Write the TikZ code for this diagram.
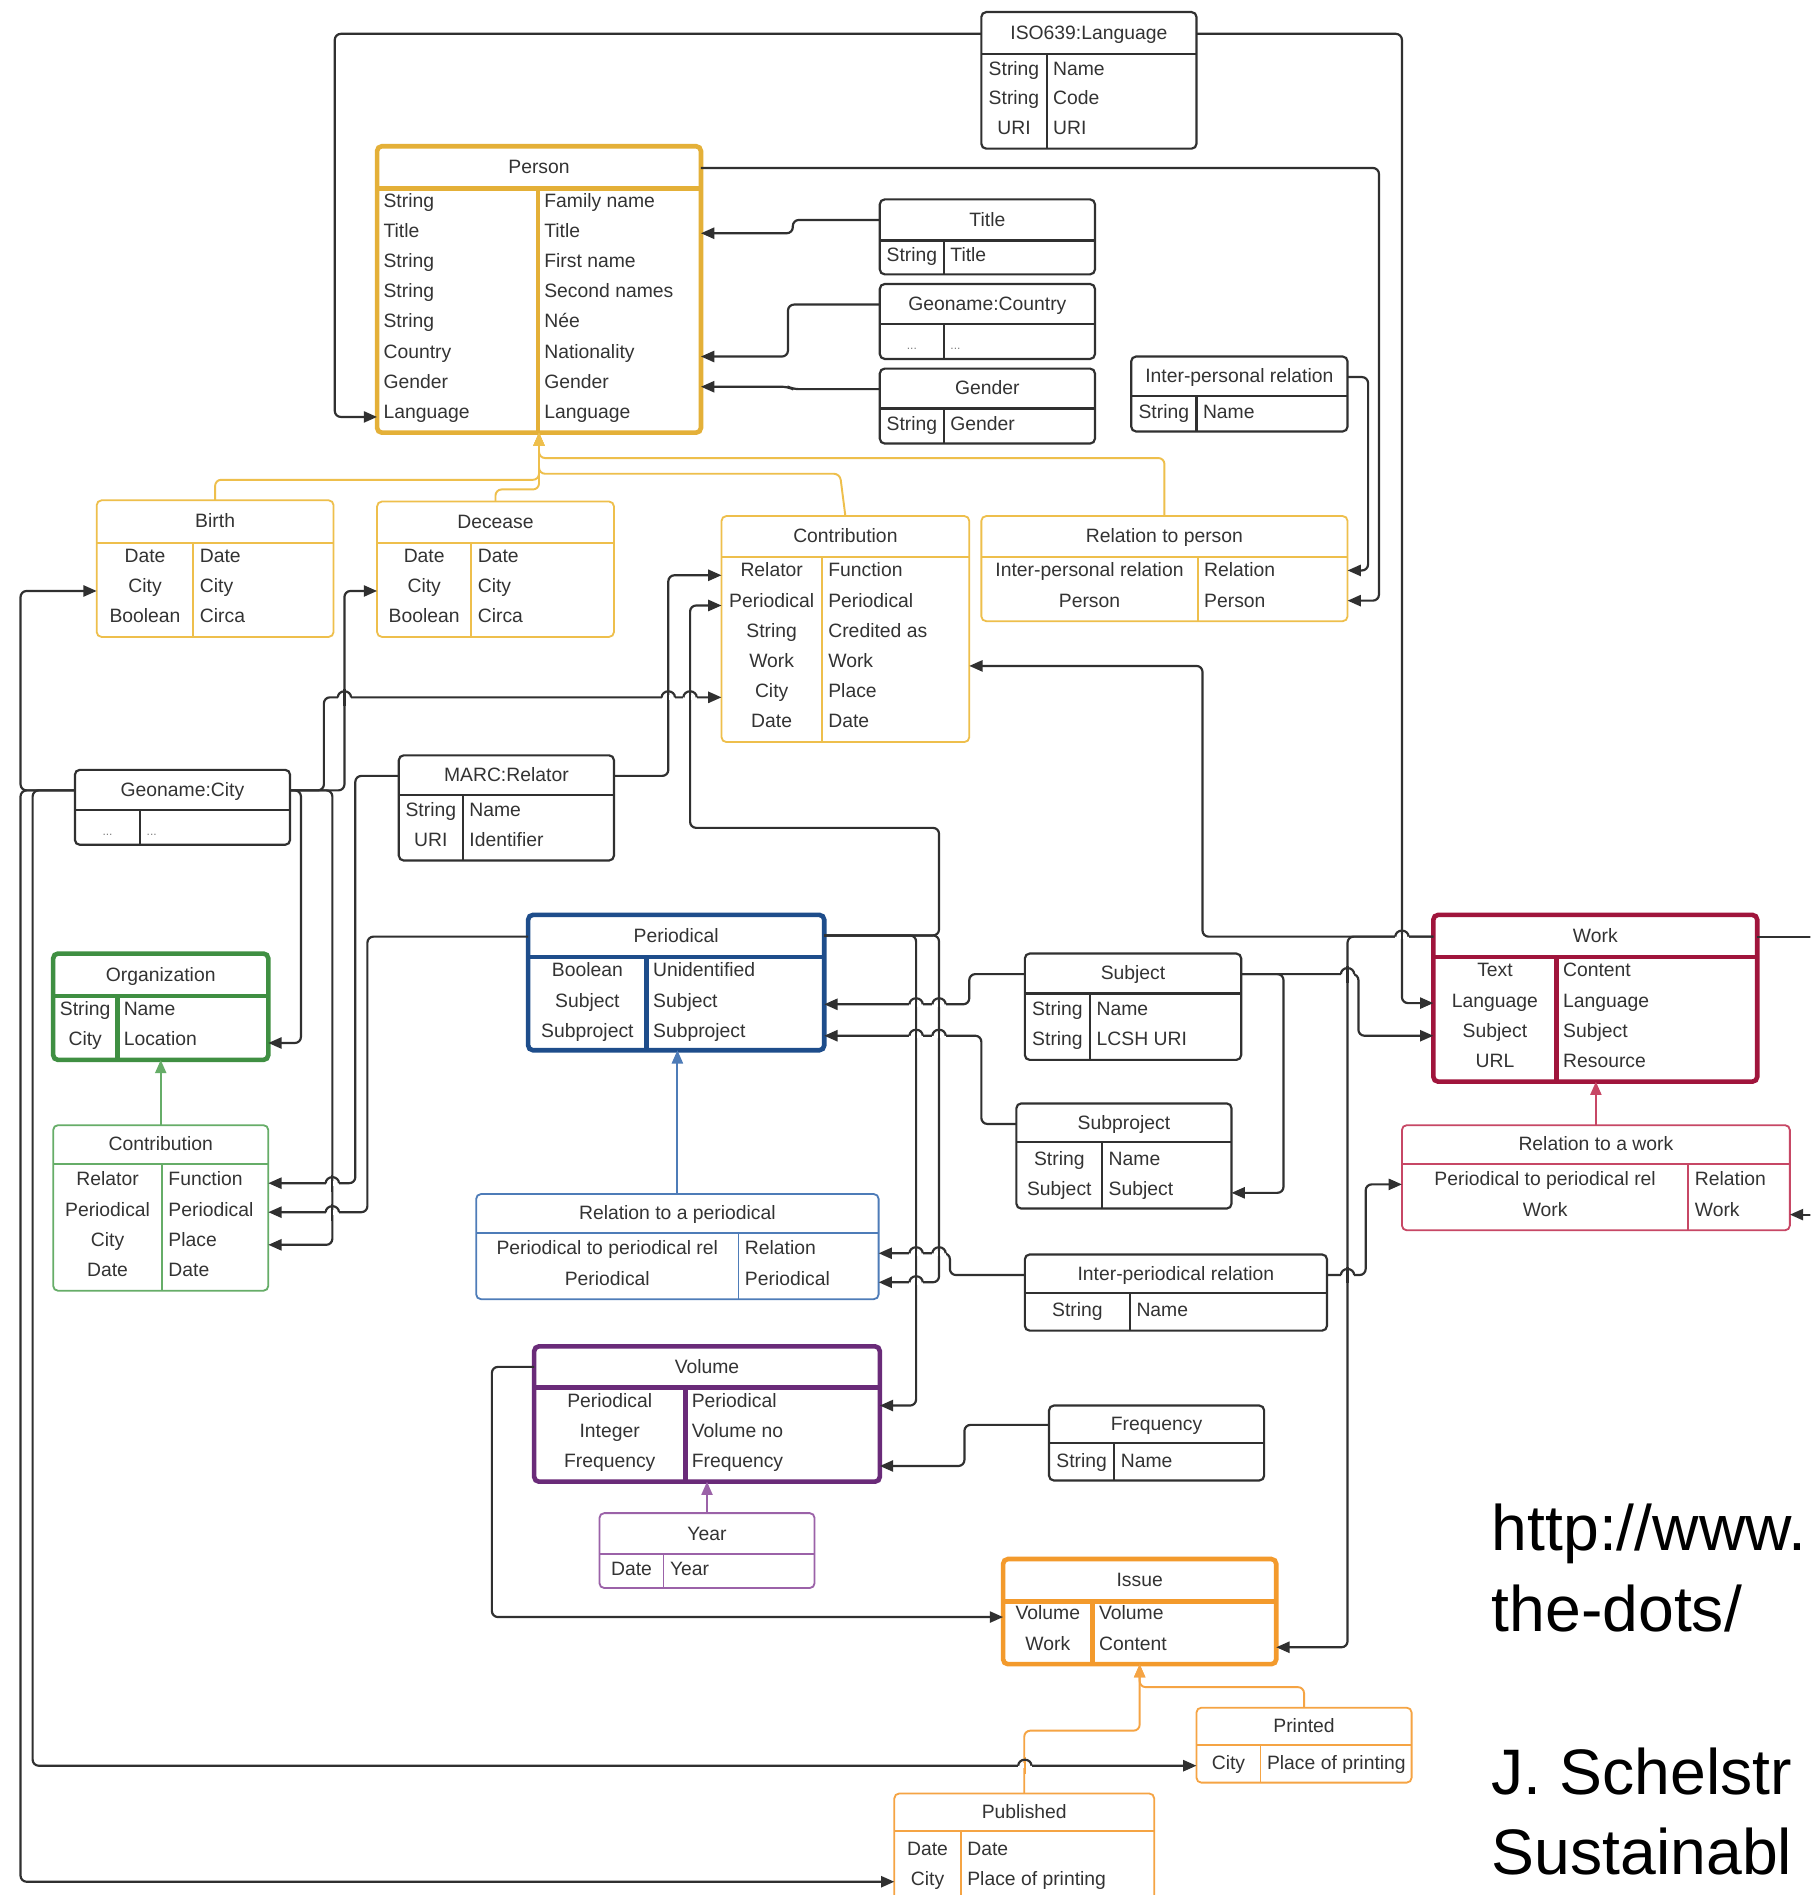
\documentclass[tikz,border=0pt]{standalone}
\usepackage{fontspec}
\setmainfont{Liberation Sans}
\usetikzlibrary{arrows.meta}
\definecolor{txt}{HTML}{333333}
\definecolor{ln}{HTML}{303030}
\definecolor{gold}{HTML}{E4B038}
\definecolor{goldl}{HTML}{EEBF4C}
\definecolor{blu}{HTML}{1E4D8B}
\definecolor{blul}{HTML}{4E7CB8}
\definecolor{grn}{HTML}{3F8F42}
\definecolor{grnl}{HTML}{66AD68}
\definecolor{crim}{HTML}{A0153C}
\definecolor{criml}{HTML}{C74765}
\definecolor{purp}{HTML}{6A2B79}
\definecolor{purpl}{HTML}{9B62A8}
\definecolor{orng}{HTML}{F39A2C}
\definecolor{orngl}{HTML}{F5A444}
\tikzset{
  blk/.style={draw=ln, line width=0.9pt},
  goldT/.style={draw=gold, line width=1.9pt},
  goldt/.style={draw=goldl, line width=0.75pt},
  bluT/.style={draw=blu, line width=1.9pt},
  blut/.style={draw=blul, line width=0.75pt},
  grnT/.style={draw=grn, line width=1.9pt},
  grnt/.style={draw=grnl, line width=0.75pt},
  crimT/.style={draw=crim, line width=1.9pt},
  crimt/.style={draw=criml, line width=0.75pt},
  purpT/.style={draw=purp, line width=1.9pt},
  purpt/.style={draw=purpl, line width=0.75pt},
  orngT/.style={draw=orng, line width=1.9pt},
  orngt/.style={draw=orngl, line width=0.75pt},
  lbl/.style={text=txt, font=\fontsize{8}{9.6}\selectfont, inner sep=0pt},
  bigt/.style={text=black, font=\fontsize{26.6}{32}\selectfont, inner sep=0pt},
  tip/.style={-{Triangle[length=5.5pt,width=4.6pt]}},
  conn/.style={draw=ln, line width=0.9pt, rounded corners=2.5pt, tip},
  plain/.style={draw=ln, line width=0.9pt},
  inhgold/.style={draw=goldl, line width=0.8pt, rounded corners=2.5pt, tip},
  inhblue/.style={draw=blul, line width=0.8pt, tip},
  inhgrn/.style={draw=grnl, line width=0.8pt, tip},
  inhcrim/.style={draw=criml, line width=0.8pt, tip},
  inhpurp/.style={draw=purpl, line width=0.8pt, tip},
  inhorng/.style={draw=orngl, line width=0.8pt, rounded corners=2.5pt, tip},
  oplain/.style={draw=orngl, line width=0.8pt},
}
\newcounter{lc}
\newcommand{\ubox}[9]{%
  \pgfmathsetmacro{\bw}{(#5-#3)*0.5}%
  \pgfmathsetmacro{\bh}{(#6-#4)*0.5}%
  \node[#2, rounded corners=2pt, minimum width=\bw pt, minimum height=\bh pt,
        inner sep=0pt, outer sep=0pt, anchor=north west] (#1) at (#3,#4) {};
  \draw[#2] (#3,#7) -- (#5,#7);
  \draw[#2] (#8,#7) -- (#8,#6);
  \node[lbl, anchor=mid] (#1-t) at ({(#3+#5)/2},{(#4+#7)/2}) {#9};
}
\newcommand{\rc}[5]{%
  \stepcounter{lc}%
  \node[lbl, anchor=mid] (c\arabic{lc}) at ({(#1+#2)/2},#3) {#4};
  \node[lbl, anchor=mid west] (d\arabic{lc}) at (#2+5,#3) {#5};}
\newcommand{\rl}[5]{%
  \stepcounter{lc}%
  \node[lbl, anchor=mid west] (c\arabic{lc}) at (#1+5,#3) {#4};
  \node[lbl, anchor=mid west] (d\arabic{lc}) at (#2+5,#3) {#5};}
\newcommand{\dd}{{\fontsize{5}{6}\selectfont\color{gray}...}}
\newcommand{\jmp}[3]{%
  \fill[white] (#1-5.5,#2-2.2) rectangle (#1+5.5,#2+2.2);
  \draw[#3] (#1,#2-7) -- (#1,#2+7);
  \draw[plain] (#1-5.5,#2) arc[start angle=180,end angle=360,x radius=5.5,y radius=5];
}
\begin{document}
\begin{tikzpicture}[x=0.5pt,y=-0.5pt]
\useasboundingbox (0,0) rectangle (1498,1568);
\clip (0,0) rectangle (1498,1568);
\fill[white] (0,0) rectangle (1498,1568);

% ---------------- boxes ----------------
\ubox{iso}{blk}{812}{10}{990}{123}{45}{866}{ISO639:Language}
\rc{812}{866}{57}{String}{Name}
\rc{812}{866}{81}{String}{Code}
\rc{812}{866}{106}{URI}{URI}

\ubox{person}{goldT}{312}{121}{580}{358}{156}{445}{Person}
\rl{312}{445}{166}{String}{Family name}
\rl{312}{445}{191}{Title}{Title}
\rl{312}{445}{216}{String}{First name}
\rl{312}{445}{241}{String}{Second names}
\rl{312}{445}{266}{String}{Née}
\rl{312}{445}{291}{Country}{Nationality}
\rl{312}{445}{316}{Gender}{Gender}
\rl{312}{445}{341}{Language}{Language}

\ubox{title}{blk}{728}{165}{906}{227}{199}{781}{Title}
\rc{728}{781}{211}{String}{Title}

\ubox{country}{blk}{728}{235}{906}{297}{268}{781}{Geoname:Country}
\rc{728}{781}{284}{\dd}{\dd}

\ubox{gender}{blk}{728}{305}{906}{367}{338}{781}{Gender}
\rc{728}{781}{351}{String}{Gender}

\ubox{interp}{blk}{936}{295}{1115}{357}{328}{990}{Inter-personal relation}
\rc{936}{990}{341}{String}{Name}

\ubox{birth}{goldt}{80}{414}{276}{527}{449}{160}{Birth}
\rc{80}{160}{460}{Date}{Date}
\rc{80}{160}{485}{City}{City}
\rc{80}{160}{510}{Boolean}{Circa}

\ubox{decease}{goldt}{312}{415}{508}{527}{449}{390}{Decease}
\rc{312}{390}{460}{Date}{Date}
\rc{312}{390}{485}{City}{City}
\rc{312}{390}{510}{Boolean}{Circa}

\ubox{contrib}{goldt}{597}{427}{802}{614}{461}{680}{Contribution}
\rc{597}{680}{472}{Relator}{Function}
\rc{597}{680}{497}{Periodical}{Periodical}
\rc{597}{680}{522}{String}{Credited as}
\rc{597}{680}{547}{Work}{Work}
\rc{597}{680}{572}{City}{Place}
\rc{597}{680}{597}{Date}{Date}

\ubox{relperson}{goldt}{812}{427}{1115}{514}{461}{991}{Relation to person}
\rc{812}{991}{472}{Inter-personal relation}{Relation}
\rc{812}{991}{497}{Person}{Person}

\ubox{gcity}{blk}{62}{637}{240}{699}{670}{116}{Geoname:City}
\rc{62}{116}{686}{\dd}{\dd}

\ubox{marc}{blk}{330}{625}{508}{712}{658}{383}{MARC:Relator}
\rc{330}{383}{670}{String}{Name}
\rc{330}{383}{695}{URI}{Identifier}

\ubox{periodical}{bluT}{437}{757}{682}{869}{792}{535}{Periodical}
\rc{437}{535}{803}{Boolean}{Unidentified}
\rc{437}{535}{828}{Subject}{Subject}
\rc{437}{535}{853}{Subproject}{Subproject}

\ubox{org}{grnT}{44}{789}{222}{877}{824}{97}{Organization}
\rc{44}{97}{835}{String}{Name}
\rc{44}{97}{860}{City}{Location}

\ubox{subject}{blk}{848}{789}{1027}{877}{822}{902}{Subject}
\rc{848}{902}{835}{String}{Name}
\rc{848}{902}{860}{String}{LCSH URI}

\ubox{work}{crimT}{1186}{757}{1454}{895}{792}{1288}{Work}
\rc{1186}{1288}{803}{Text}{Content}
\rc{1186}{1288}{828}{Language}{Language}
\rc{1186}{1288}{853}{Subject}{Subject}
\rc{1186}{1288}{878}{URL}{Resource}

\ubox{subproject}{blk}{841}{913}{1019}{1000}{945}{912}{Subproject}
\rc{841}{912}{959}{String}{Name}
\rc{841}{912}{984}{Subject}{Subject}

\ubox{gcontrib}{grnt}{44}{931}{222}{1068}{963}{134}{Contribution}
\rc{44}{134}{976}{Relator}{Function}
\rc{44}{134}{1001}{Periodical}{Periodical}
\rc{44}{134}{1026}{City}{Place}
\rc{44}{134}{1051}{Date}{Date}

\ubox{relwork}{crimt}{1160}{931}{1481}{1018}{963}{1397}{Relation to a work}
\rc{1160}{1397}{976}{Periodical to periodical rel}{Relation}
\rc{1160}{1397}{1001}{Work}{Work}

\ubox{relper}{blut}{394}{988}{727}{1075}{1020}{611}{Relation to a periodical}
\rc{394}{611}{1033}{Periodical to periodical rel}{Relation}
\rc{394}{611}{1058}{Periodical}{Periodical}

\ubox{interper}{blk}{848}{1038}{1098}{1101}{1070}{935}{Inter-periodical relation}
\rc{848}{935}{1084}{String}{Name}

\ubox{volume}{purpT}{442}{1114}{728}{1226}{1148}{567}{Volume}
\rc{442}{567}{1159}{Periodical}{Periodical}
\rc{442}{567}{1184}{Integer}{Volume no}
\rc{442}{567}{1209}{Frequency}{Frequency}

\ubox{frequency}{blk}{868}{1163}{1046}{1225}{1194}{922}{Frequency}
\rc{868}{922}{1209}{String}{Name}

\ubox{year}{purpt}{496}{1252}{674}{1314}{1286}{549}{Year}
\rc{496}{549}{1298}{Date}{Year}

\ubox{issue}{orngT}{830}{1290}{1056}{1377}{1325}{904}{Issue}
\rc{830}{904}{1335}{Volume}{Volume}
\rc{830}{904}{1360}{Work}{Content}

\ubox{printed}{orngt}{990}{1413}{1168}{1475}{1444}{1043}{Printed}
\rc{990}{1043}{1459}{City}{Place of printing}

\ubox{published}{orngt}{740}{1484}{955}{1600}{1515}{795}{Published}
\rc{740}{795}{1530}{Date}{Date}
\rc{740}{795}{1555}{City}{Place of printing}

% ---------------- inheritance connectors ----------------
\draw[inhgold] (relperson.north) -- (relperson.north |- 0,379) -- (person.south |- 0,379) -- (person.south);
\draw[inhgold] (contrib.north) -- (695,392) -- (person.south |- 0,392) -- (person.south);
\draw[inhgold] (birth.north) -- (birth.north |- 0,397) -- (person.south |- 0,397) -- (person.south);
\draw[inhgold] (decease.north) -- (decease.north |- 0,405) -- (person.south |- 0,405) -- (person.south);
\draw[inhblue] (relper.north) -- (relper.north |- periodical.south);
\draw[inhgrn] (gcontrib.north) -- (gcontrib.north |- org.south);
\draw[inhcrim] (relwork.north) -- (relwork.north |- work.south);
\draw[inhpurp] (year.north) -- (year.north |- volume.south);
\draw[inhorng] (published.north) -- (published.north |- 0,1432) -- (issue.south |- 0,1432) -- (issue.south);
\draw[inhorng] (printed.north) -- (printed.north |- 0,1396) -- (issue.south |- 0,1396) -- (issue.south);

% ---------------- reference connectors ----------------
\draw[conn] (iso.west |- 0,28) -- (277,28) -- (277,345) -- (person.west |- 0,345);
\draw[conn] (iso.east |- 0,28) -- (1160,28) -- (1160,830) -- (work.west |- 0,830);
\draw[conn] (person.east |- 0,139) -- (1141,139) -- (1141,497) -- (relperson.east |- 0,497);
\draw[conn] (title.west |- 0,182) -- (656,182) -- (656,193) -- (person.east |- 0,193);
\draw[conn] (country.west |- 0,252) -- (652,252) -- (652,295) -- (person.east |- 0,295);
\draw[conn] (gender.west |- 0,322) -- (656,322) -- (652,320) -- (person.east |- 0,320);
\draw[conn] (interp.east |- 0,312) -- (1132,312) -- (1132,472) -- (relperson.east |- 0,472);

\draw[conn] (gcity.west |- 0,654) -- (17,654) -- (17,489) -- (birth.west |- 0,489);
\draw[conn] (gcity.west |- 0,654) -- (17,654) -- (17,1557) -- (published.west |- 0,1557);
\draw[conn] (gcity.west |- 0,654) -- (27,654) -- (27,1461) -- (printed.west |- 0,1461);
\draw[conn] (gcity.east |- 0,654) -- (249,654) -- (249,863) -- (org.east |- 0,863);
\draw[conn] (gcity.east |- 0,654) -- (268,654) -- (268,577) -- (contrib.west |- 0,577);
\draw[conn] (gcity.east |- 0,654) -- (275,654) -- (275,1030) -- (gcontrib.east |- 0,1030);
\draw[conn] (gcity.east |- 0,654) -- (285,654) -- (285,489) -- (decease.west |- 0,489);

\draw[conn] (marc.east |- 0,642) -- (553,642) -- (553,476) -- (contrib.west |- 0,476);
\draw[conn] (marc.west |- 0,642) -- (294,642) -- (294,979) -- (gcontrib.east |- 0,979);

\draw[conn] (periodical.west |- 0,775) -- (304,775) -- (304,1003) -- (gcontrib.east |- 0,1003);
\draw[conn] (periodical.east |- 0,774) -- (777,774) -- (777,685) -- (571,685) -- (571,501) -- (contrib.west |- 0,501);
\draw[conn] (periodical.east |- 0,774) -- (758,774) -- (758,1163) -- (volume.east |- 0,1163);
\draw[conn] (periodical.east |- 0,774) -- (777,774) -- (777,1061) -- (relper.east |- 0,1061);

\draw[conn] (subject.west |- 0,806) -- (802,806) -- (802,831) -- (periodical.east |- 0,831);
\draw[conn] (subject.east |- 0,806) -- (1062,806) -- (1062,987) -- (subproject.east |- 0,987);
\draw[conn] (subject.east |- 0,806) -- (1124,806) -- (1124,857) -- (work.west |- 0,857);
\draw[conn] (subproject.west |- 0,930) -- (812,930) -- (812,857) -- (periodical.east |- 0,857);

\draw[conn] (interper.west |- 0,1055) -- (786,1055) -- (786,1037) -- (relper.east |- 0,1037);
\draw[conn] (interper.east |- 0,1055) -- (1130,1055) -- (1130,980) -- (relwork.west |- 0,980);

\draw[conn] (work.west |- 0,775) -- (995,775) -- (995,551) -- (contrib.east |- 0,551);
\draw[conn] (work.west |- 0,775) -- (1115,775) -- (1115,1363) -- (issue.east |- 0,1363);
\coordinate (edgeA) at (1500,775);
\coordinate (edgeB) at (1500,1005);
\draw[plain] (work.east |- 0,775) -- (edgeA);
\draw[conn] (edgeB) -- (relwork.east |- 0,1005);

\draw[conn] (volume.west |- 0,1131) -- (407,1131) -- (407,1338) -- (issue.west |- 0,1338);
\draw[conn] (frequency.west |- 0,1179) -- (798,1179) -- (798,1213) -- (volume.east |- 0,1213);

% ---------------- line jumps ----------------
\jmp{285}{577}{plain}
\jmp{553}{577}{plain}
\jmp{571}{577}{plain}
\jmp{275}{979}{plain}
\jmp{275}{1003}{plain}
\jmp{1160}{775}{plain}
\jmp{1115}{806}{plain}
\jmp{758}{831}{plain}
\jmp{777}{831}{plain}
\jmp{758}{857}{plain}
\jmp{777}{857}{plain}
\jmp{758}{1037}{plain}
\jmp{777}{1037}{plain}
\jmp{758}{1061}{plain}
\jmp{1115}{1055}{plain}
\jmp{848}{1461}{oplain}

% ---------------- caption text ----------------
\node[bigt, anchor=base west] (u1) at (1234,1283) {http://www.};
\node[bigt, anchor=base west] (u2) at (1234,1350) {the-dots/};
\node[bigt, anchor=base west] (u3) at (1234,1485) {J. Schelstr};
\node[bigt, anchor=base west] (u4) at (1234,1551) {Sustainabl};
\end{tikzpicture}
\end{document}
